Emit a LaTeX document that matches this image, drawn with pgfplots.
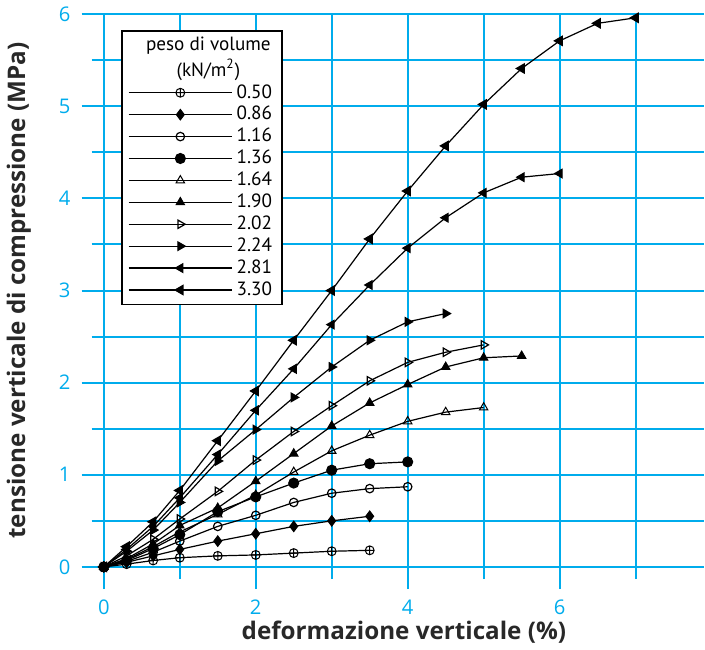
\documentclass[border=0pt]{standalone}
\usepackage{fontspec}
\setmainfont{Open Sans}
\newfontfamily\legfont{PT Sans}
\usepackage{pgfplots}
\pgfplotsset{compat=1.18}
\definecolor{gridblue}{RGB}{0,172,236}
\definecolor{labgray}{RGB}{40,40,40}
\begin{document}
\begin{tikzpicture}
\begin{axis}[
  scale only axis,
  width=297.5pt, height=274pt,
  xmin=0, xmax=7.9, ymin=0, ymax=6,
  xtick={0,2,4,6}, minor xtick={1,3,5,7},
  ytick={0,1,2,3,4,5,6}, minor ytick={0.5,1.5,2.5,3.5,4.5,5.5},
  grid=both,
  major grid style={draw=gridblue, line width=1pt},
  minor grid style={draw=gridblue, line width=1pt},
  axis line style={draw=none},
  tick align=outside,
  tick pos=left,
  major tick length=11pt, minor tick length=6pt,
  every tick/.style={draw=gridblue, line width=1pt},
  every minor tick/.style={draw=gridblue, line width=1pt},
  /pgf/number format/assume math mode=true,
  tick label style={font=\fontsize{10}{12}\selectfont, text=gridblue},
  yticklabel style={xshift=-2pt},
  xticklabel style={yshift=-2pt},
  xlabel={deformazione verticale (\%)},
  ylabel={tensione verticale di compressione (MPa)},
  ylabel shift=7pt,
  xlabel shift=-4pt,
  label style={font=\fontsize{12}{13}\selectfont\bfseries, text=labgray},
  every axis plot/.append style={black, line width=0.6pt, mark size=2.1pt, mark options={solid, line width=0.5pt}},
  legend cell align=left,
  legend style={at={(rel axis cs:0.029,0.971)}, anchor=north west,
    draw=black, line width=0.8pt, fill=white,
    font=\legfont\fontsize{9.5}{10}\selectfont, row sep=0.6pt,
    nodes={inner ysep=1pt},
    inner xsep=3pt, inner ysep=2pt},
  legend image code/.code={\draw[mark repeat=2,mark phase=2,#1] plot coordinates {(0cm,0cm) (0.9cm,0cm) (1.8cm,0cm)};},
]
\addlegendimage{empty legend}
\addlegendentry{\hspace*{-25pt}\makebox[0pt][c]{peso di volume}}
\addlegendimage{empty legend}
\addlegendentry{\hspace*{-25pt}\makebox[0pt][c]{(kN/m\textsuperscript{2})}}

\addplot[mark=oplus, mark size=2.2pt] coordinates {(0,0)(0.3,0.03)(0.65,0.07)(1,0.10)(1.5,0.12)(2,0.13)(2.5,0.15)(3,0.17)(3.5,0.18)};
\addlegendentry{0.50}
\addplot[mark=diamond*, mark size=2.6pt] coordinates {(0,0)(0.3,0.05)(0.65,0.12)(1,0.19)(1.5,0.28)(2,0.36)(2.5,0.44)(3,0.50)(3.5,0.55)};
\addlegendentry{0.86}
\addplot[mark=o, mark options={fill=white}] coordinates {(0,0)(0.3,0.06)(0.65,0.16)(1,0.28)(1.5,0.44)(2,0.56)(2.5,0.70)(3,0.80)(3.5,0.85)(4,0.87)};
\addlegendentry{1.16}
\addplot[mark=*, mark size=2.5pt] coordinates {(0,0)(0.3,0.07)(0.65,0.20)(1,0.35)(1.5,0.60)(2,0.76)(2.5,0.91)(3,1.05)(3.5,1.12)(4,1.14)};
\addlegendentry{1.36}
\addplot[mark=triangle, mark size=2.4pt] coordinates {(0,0)(0.3,0.08)(0.65,0.22)(1,0.38)(1.5,0.57)(2,0.78)(2.5,1.03)(3,1.26)(3.5,1.43)(4,1.58)(4.5,1.68)(5,1.73)};
\addlegendentry{1.64}
\addplot[mark=triangle*, mark size=2.4pt] coordinates {(0,0)(0.3,0.09)(0.65,0.25)(1,0.45)(1.5,0.64)(2,0.93)(2.5,1.23)(3,1.53)(3.5,1.78)(4,1.98)(4.5,2.17)(5,2.27)(5.5,2.29)};
\addlegendentry{1.90}
\addplot[mark=triangle, mark size=2.4pt, mark options={rotate=-90}] coordinates {(0,0)(0.3,0.12)(0.65,0.30)(1,0.52)(1.5,0.82)(2,1.16)(2.5,1.47)(3,1.75)(3.5,2.02)(4,2.22)(4.5,2.33)(5,2.41)};
\addlegendentry{2.02}
\addplot[mark=triangle*, mark size=2.4pt, mark options={rotate=-90}] coordinates {(0,0)(0.3,0.17)(0.65,0.40)(1,0.70)(1.5,1.15)(2,1.49)(2.5,1.84)(3,2.17)(3.5,2.46)(4,2.66)(4.5,2.75)};
\addlegendentry{2.24}
\addplot[mark=triangle*, mark size=2.4pt, mark options={rotate=90}] coordinates {(0,0)(0.3,0.19)(0.65,0.44)(1,0.75)(1.5,1.22)(2,1.70)(2.5,2.15)(3,2.63)(3.5,3.06)(4,3.46)(4.5,3.79)(5,4.06)(5.5,4.23)(6,4.27)};
\addlegendentry{2.81}
\addplot[mark=triangle*, mark size=2.6pt, mark options={rotate=90}] coordinates {(0,0)(0.3,0.22)(0.65,0.49)(1,0.83)(1.5,1.37)(2,1.91)(2.5,2.46)(3,3.00)(3.5,3.56)(4,4.08)(4.5,4.57)(5,5.02)(5.5,5.41)(6,5.71)(6.5,5.90)(7,5.96)};
\addlegendentry{3.30}
\end{axis}
\end{tikzpicture}
\end{document}
